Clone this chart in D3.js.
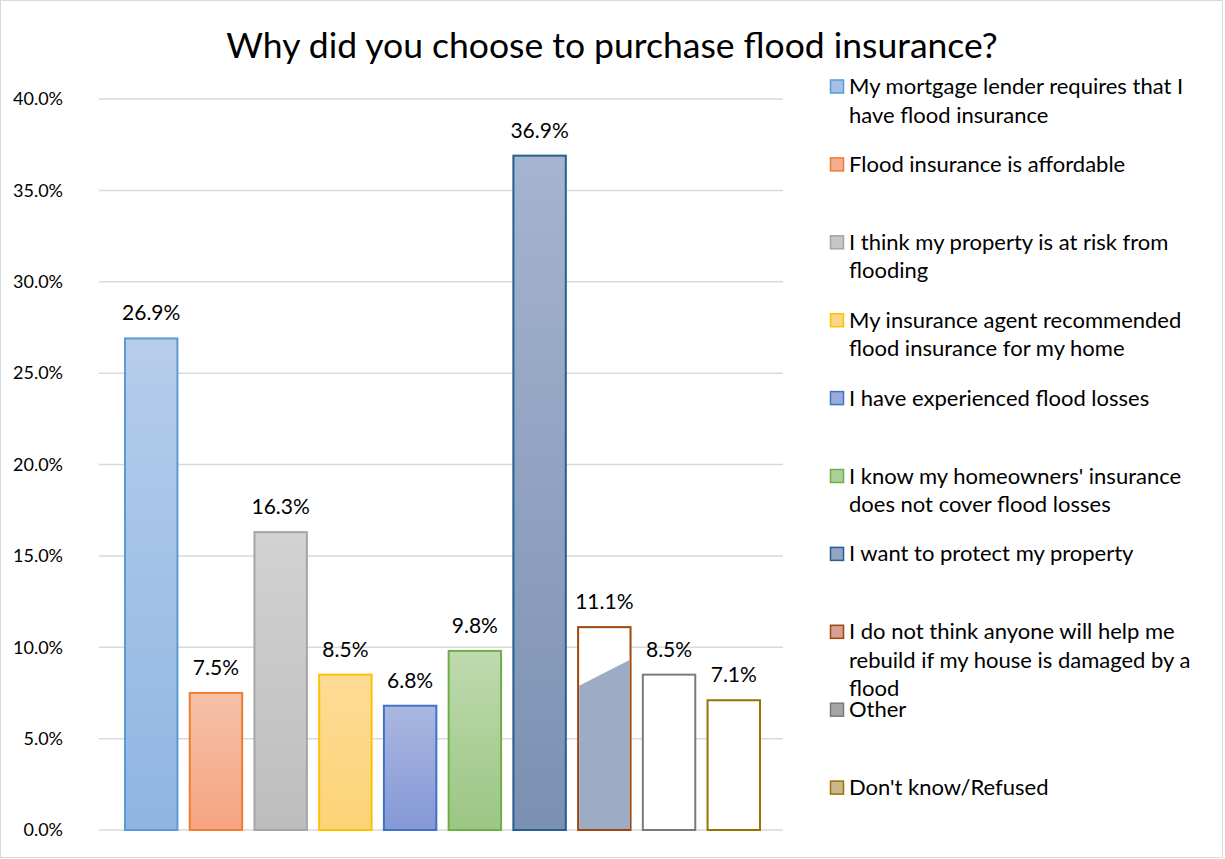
<!DOCTYPE html>
<html>
<head>
<meta charset="utf-8">
<script src="https://cdn.jsdelivr.net/npm/d3@7"></script>
<style>
  body { margin: 0; background: #fff; }
  svg { display: block; font-family: Lato, "Open Sans", sans-serif; }
</style>
</head>
<body>
<svg width="1225" height="859"></svg>
<script>
// data
var categories = [
  "My mortgage lender requires that I have flood insurance",
  "Flood insurance is affordable",
  "I think my property is at risk from flooding",
  "My insurance agent recommended flood insurance for my home",
  "I have experienced flood losses",
  "I know my homeowners' insurance does not cover flood losses",
  "I want to protect my property",
  "I do not think anyone will help me rebuild if my house is damaged by a flood",
  "Other",
  "Don't know/Refused"
];
var values = [26.9, 7.5, 16.3, 8.5, 6.8, 9.8, 36.9, 11.1, 8.5, 7.1];
var yTicks = [0, 5, 10, 15, 20, 25, 30, 35, 40];

// colours: gradient top, gradient bottom, border, legend swatch
var gradTop    = ["#b6cdea", "#f6c1aa", "#d2d2d2", "#fedb96", "#aab7e1", "#bedaaf", "#a5b4cf", "#ffffff", "#ffffff", "#ffffff"];
var gradBottom = ["#8fb5e3", "#f5a47f", "#bdbdbd", "#fdd377", "#8498d6", "#9bc683", "#7b90b2", "#ffffff", "#ffffff", "#ffffff"];
var borders    = ["#5b9bd5", "#ed7d31", "#a5a5a5", "#ffc000", "#4472c4", "#70ad47", "#255e91", "#9e480e", "#7a7a7a", "#997300"];
var swatchFill = ["#a3c0e7", "#f3ae8d", "#c6c6c6", "#fed584", "#9aaadd", "#acd09a", "#93a5c4", "#d6a190", "#a5a5a5", "#ccb68c"];

// the odd partial fill inside the "rebuild" bar (left / right level, %)
var glitchLevels = [7.9, 9.3];

var svg = d3.select("svg");
var W = 1225, H = 859;

svg.append("rect")
  .attr("x", 0.5).attr("y", 0.5)
  .attr("width", W - 3).attr("height", H - 2)
  .attr("fill", "#fff").attr("stroke", "#d9d9d9");

var y = d3.scaleLinear().domain([0, 40]).range([830, 99]);
var x = d3.scaleBand().domain(d3.range(values.length))
  .range([125, 760]).paddingInner(0.19).paddingOuter(0);

// title
svg.append("text")
  .attr("x", 612).attr("y", 58)
  .attr("text-anchor", "middle")
  .attr("font-size", "35.5px")
  .attr("fill", "#000")
  .text("Why did you choose to purchase flood insurance?");

// grid
svg.append("g").selectAll("line")
  .data(yTicks)
  .enter().append("line")
  .attr("x1", 99).attr("x2", 783)
  .attr("y1", function(d){ return y(d); })
  .attr("y2", function(d){ return y(d); })
  .attr("stroke", "#d9d9d9").attr("stroke-width", 1.5);

// y axis labels
var yAxis = d3.axisLeft(y).tickValues(yTicks)
  .tickFormat(function(d){ return d.toFixed(1) + "%"; })
  .tickSize(0).tickPadding(0);
svg.append("g")
  .attr("transform", "translate(63,0)")
  .call(yAxis)
  .call(function(g){ g.select(".domain").remove(); })
  .selectAll("text")
  .attr("font-family", "Lato")
  .attr("font-size", "18px")
  .attr("fill", "#000");

// gradients
var defs = svg.append("defs");
values.forEach(function(v, i){
  var lg = defs.append("linearGradient")
    .attr("id", "g" + i)
    .attr("x1", 0).attr("y1", 0).attr("x2", 0).attr("y2", 1);
  lg.append("stop").attr("offset", "0%").attr("stop-color", gradTop[i]);
  lg.append("stop").attr("offset", "100%").attr("stop-color", gradBottom[i]);
});

// bars
var bars = svg.append("g").attr("id", "bars");
bars.selectAll("rect")
  .data(values)
  .enter().append("rect")
  .attr("x", function(d, i){ return x(i); })
  .attr("y", function(d){ return y(d); })
  .attr("width", x.bandwidth())
  .attr("height", function(d){ return y(0) - y(d); })
  .attr("fill", function(d, i){ return "url(#g" + i + ")"; })
  .attr("stroke", function(d, i){ return borders[i]; })
  .attr("stroke-width", 2);

// glitch polygon in bar 8
var gi = 7, gx0 = x(gi) + 1, gx1 = x(gi) + x.bandwidth() - 1;
bars.append("path")
  .attr("d", "M" + gx0 + "," + y(glitchLevels[0]) +
             "L" + gx1 + "," + y(glitchLevels[1]) +
             "L" + gx1 + "," + (y(0) - 1) +
             "L" + gx0 + "," + (y(0) - 1) + "Z")
  .attr("fill", "#9dabc5");

// value labels
svg.append("g").selectAll("text")
  .data(values)
  .enter().append("text")
  .attr("x", function(d, i){ return x(i) + x.bandwidth() / 2; })
  .attr("y", function(d){ return y(d) - 18; })
  .attr("text-anchor", "middle")
  .attr("font-size", "21px")
  .attr("fill", "#000")
  .text(function(d){ return d.toFixed(1) + "%"; });

// legend
var legend = svg.append("g").attr("id", "legend");
var item = legend.selectAll(".item")
  .data(categories)
  .enter().append("g")
  .attr("class", "item")
  .attr("transform", function(d, i){ return "translate(830," + (86 + i * 77.9) + ")"; });

item.append("rect")
  .attr("x", 0.5).attr("y", -6)
  .attr("width", 13).attr("height", 13)
  .attr("fill", function(d, i){ return swatchFill[i]; })
  .attr("stroke", function(d, i){ return borders[i]; })
  .attr("stroke-width", 1.5);

item.append("text")
  .attr("font-size", "22px")
  .attr("fill", "#000")
  .each(function(d){
    var t = d3.select(this), words = d.split(" "), line = [], lines = [];
    var probe = t.append("tspan");
    words.forEach(function(w){
      line.push(w);
      probe.text(line.join(" "));
      if (probe.node().getComputedTextLength() > 352 && line.length > 1) {
        line.pop();
        lines.push(line.join(" "));
        line = [w];
      }
    });
    lines.push(line.join(" "));
    probe.remove();
    lines.forEach(function(l, k){
      t.append("tspan").attr("x", 19).attr("y", 8 + k * 28.5).text(l);
    });
  });
</script>
</body>
</html>
